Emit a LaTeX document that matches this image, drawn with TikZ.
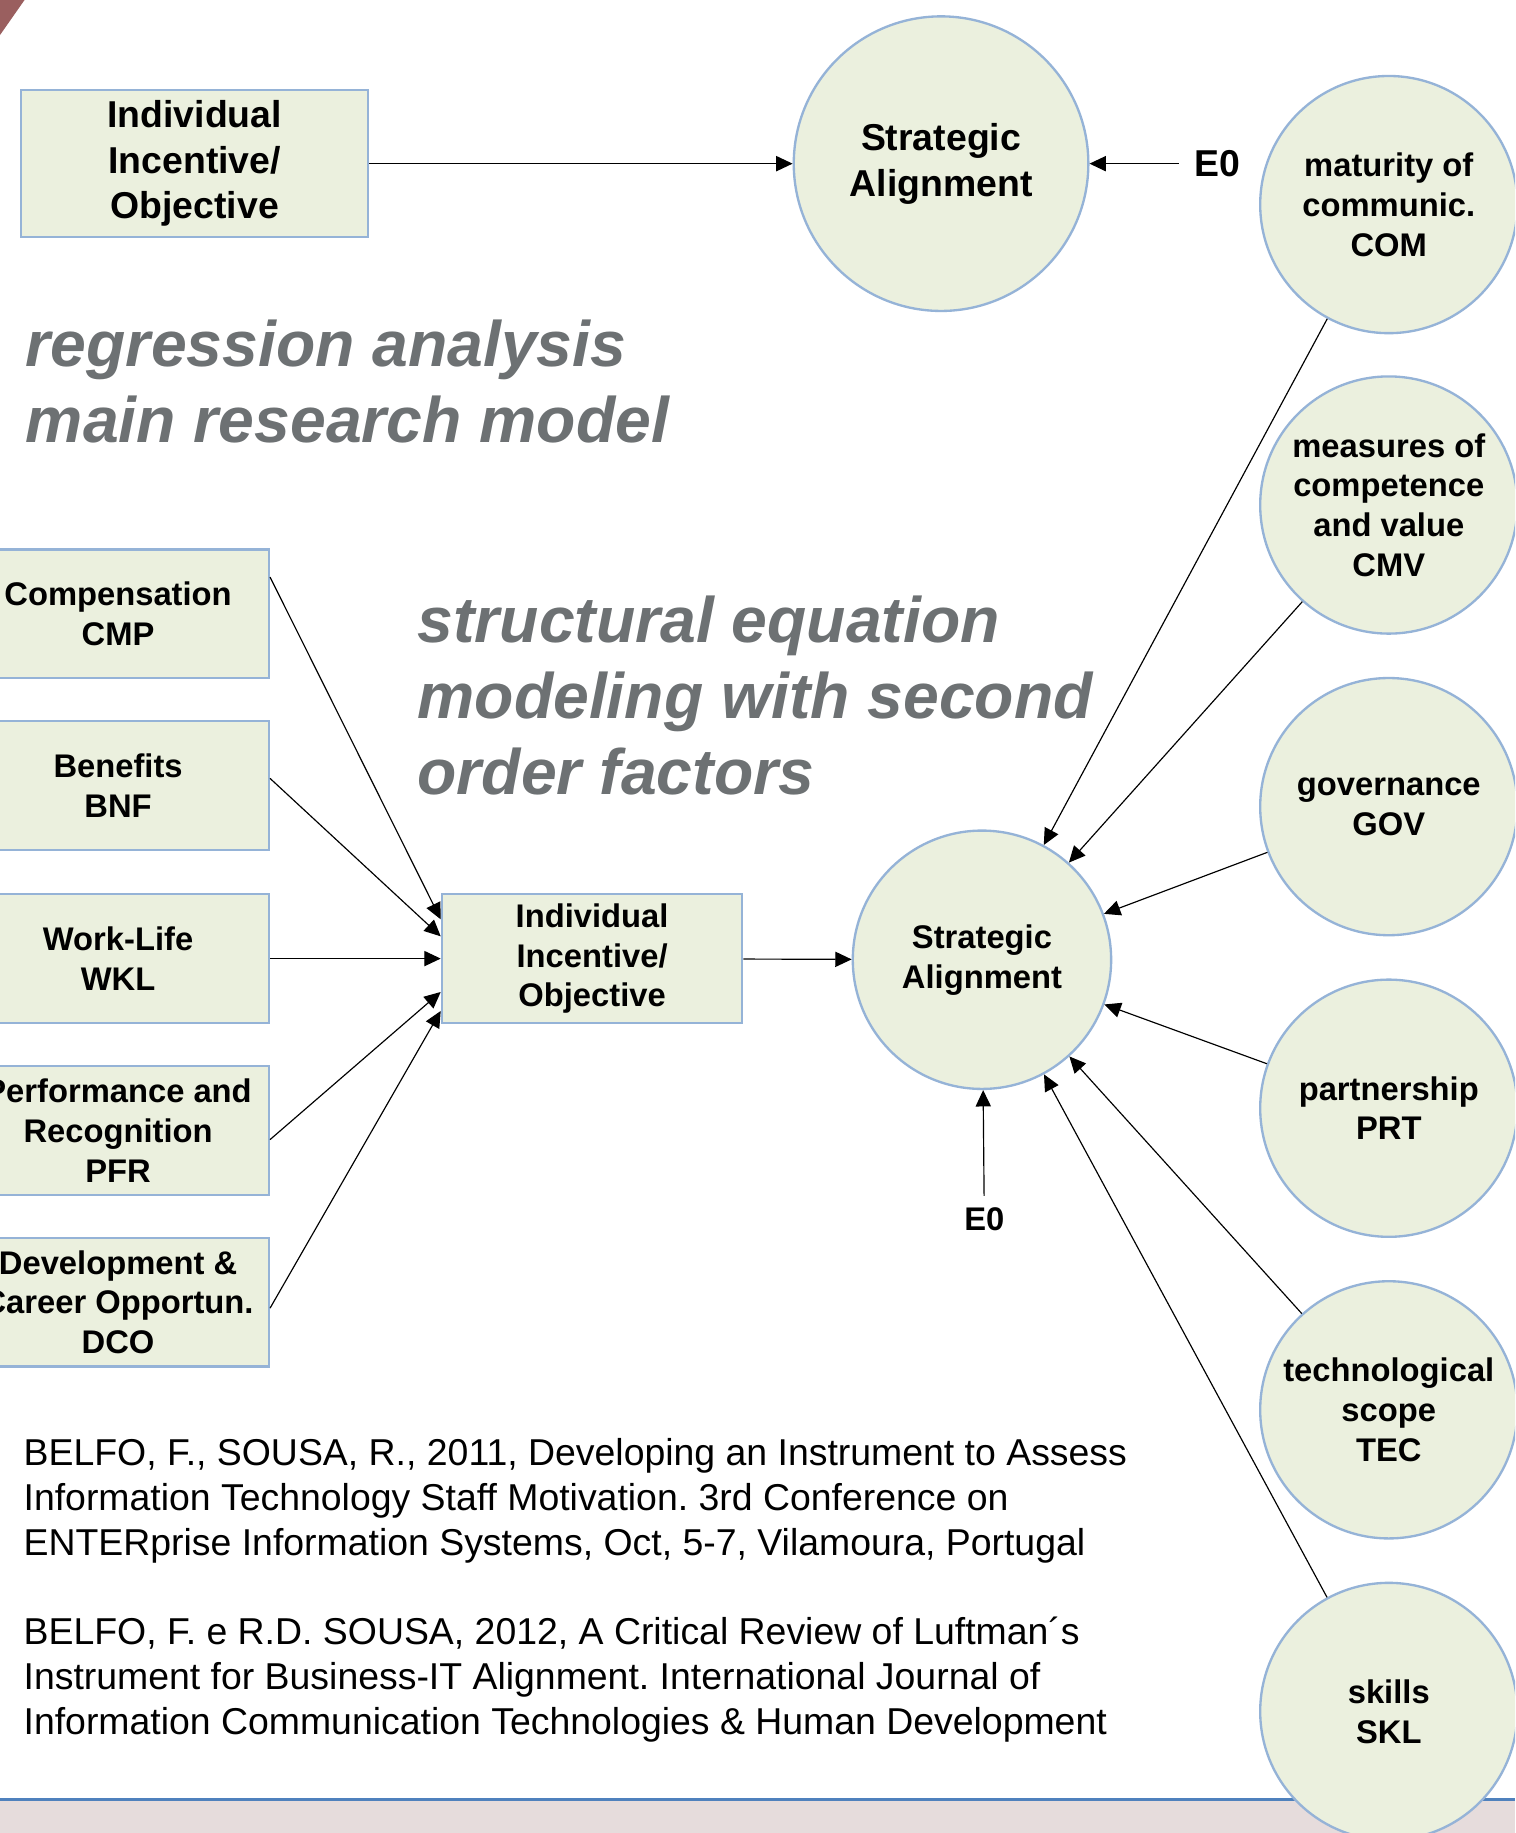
\documentclass[tikz,border=0pt]{standalone}
\usepackage{fontspec}
\setmainfont{Liberation Sans}
\usetikzlibrary{arrows.meta,calc}
\definecolor{boxfill}{HTML}{EBF0DE}
\definecolor{boxline}{HTML}{95B3D7}
\definecolor{titlegray}{HTML}{6D7173}
\definecolor{corner}{HTML}{9A5F5F}
\definecolor{band}{HTML}{E6DCDC}
\definecolor{bandline}{HTML}{4F81BD}
\frenchspacing
\begin{document}
\begin{tikzpicture}[x=1pt,y=-1pt,
  box/.style={draw=boxline,fill=boxfill,line width=2pt,align=center,inner sep=0pt,
    minimum width=258pt,minimum height=110pt,font=\fontsize{28}{34}\selectfont\bfseries},
  circ/.style={circle,draw=boxline,fill=boxfill,line width=2pt,align=center,inner sep=0pt,
    minimum size=220pt,font=\fontsize{28}{34}\selectfont\bfseries},
  arr/.style={-{Triangle[length=14pt,width=13pt]},line width=1pt},
  bigtxt/.style={font=\fontsize{32}{39}\selectfont\bfseries},
  midtxt/.style={font=\fontsize{28}{34}\selectfont\bfseries},
  titletxt/.style={align=left,text=titlegray,font=\fontsize{55}{65}\selectfont\bfseries\itshape,inner sep=0pt},
  reftxt/.style={align=left,font=\fontsize{32}{38.5}\selectfont,inner sep=0pt}]
\useasboundingbox (0,0) rectangle (1296,1568);
\clip (0,0) rectangle (1296,1568);
\fill[white] (0,0) rectangle (1296,1568);
\fill[corner] (0,0) -- (21,0) -- (0,30) -- cycle;
\fill[band] (0,1540) rectangle (1296,1568);
\draw[bandline,line width=2.5pt] (0,1539) -- (1296,1539);

% top part
\node[box,minimum width=297pt,minimum height=126pt,bigtxt] (tb) at (166.5,140) {Individual\\Incentive/\\Objective};
\node[circ,minimum size=252pt,bigtxt] (sa1) at (805,140) {Strategic\\Alignment};
\node[bigtxt,inner xsep=13pt] (e0a) at (1041,140) {E0};

% titles
\node[titletxt,anchor=west] (t1) at (22,326) {regression analysis\\main research model};
\node[titletxt,anchor=west] (t2) at (357,595) {structural equation\\modeling with second\\order factors};

% left boxes
\node[box] (cmp) at (101,525) {Compensation\\CMP};
\node[box] (bnf) at (101,672) {Benefits\\BNF};
\node[box] (wkl) at (101,820) {Work-Life\\WKL};
\node[box] (pfr) at (101,967) {Performance and\\Recognition\\PFR};
\node[box] (dco) at (101,1114) {Development \&\\Career Opportun.\\DCO};
\node[box,minimum width=257pt] (mid) at (506.5,820) {Individual\\Incentive/\\Objective};

% lower strategic alignment
\node[circ,minimum size=221pt] (sa2) at (840,821) {Strategic\\Alignment};
\node[midtxt,inner ysep=10pt] (e0b) at (842,1043) {E0};

% right circles
\node[circ] (com) at (1188,175) {maturity of\\communic.\\COM};
\node[circ] (cmv) at (1188,432) {measures of\\competence\\and value\\CMV};
\node[circ] (gov) at (1188,690) {governance\\GOV};
\node[circ] (prt) at (1188,948) {partnership\\PRT};
\node[circ] (tec) at (1188,1206) {technological\\scope\\TEC};
\node[circ] (skl) at (1188,1464) {skills\\SKL};

% references
\node[reftxt,anchor=west] (r1) at (20,1284) {BELFO, F., SOUSA, R., 2011, Developing an Instrument to Assess\\Information Technology Staff Motivation. 3rd Conference on\\ENTERprise Information Systems, Oct, 5-7, Vilamoura, Portugal};
\node[reftxt,anchor=west] (r2) at (20,1437) {BELFO, F. e R.D. SOUSA, 2012, A Critical Review of Luftman´s\\Instrument for Business-IT Alignment. International Journal of\\Information Communication Technologies \& Human Development};

% connectors
\draw[arr] (tb) -- (sa1);
\draw[arr] (e0a) -- (sa1);
\draw[arr] ($(cmp.north east)!0.22!(cmp.south east)$) -- ($(mid.north west)!0.2!(mid.south west)$);
\draw[arr] ($(bnf.north east)!0.445!(bnf.south east)$) -- ($(mid.north west)!0.33!(mid.south west)$);
\draw[arr] (wkl.east) -- (mid.west);
\draw[arr] ($(pfr.north east)!0.57!(pfr.south east)$) -- ($(mid.north west)!0.755!(mid.south west)$);
\draw[arr] ($(dco.north east)!0.545!(dco.south east)$) -- ($(mid.north west)!0.9!(mid.south west)$);
\draw[arr] (mid) -- (sa2);
\draw[arr] (e0b) -- (sa2);
\foreach \n in {com,cmv,gov,prt,tec,skl} \draw[arr] (\n) -- (sa2);
\end{tikzpicture}
\end{document}
